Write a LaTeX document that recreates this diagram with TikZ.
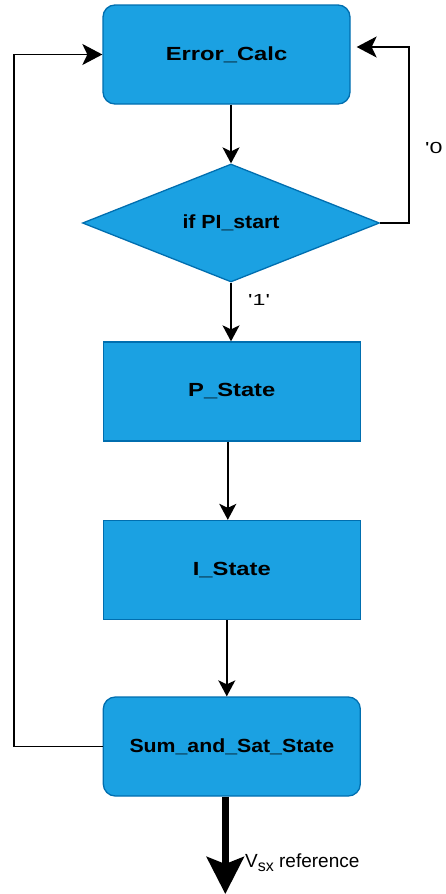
\documentclass[tikz,border=0pt]{standalone}
\usepackage{fontspec}
\setmainfont{Liberation Sans}
% bold labels inside the blocks, set a little wide
\newfontfamily\blockfont{Liberation Sans}[FakeStretch=1.25]
\newfontfamily\blockfontn{Liberation Sans}[FakeStretch=1.12]
% branch tags: straight quotes, wide digits
\newfontfamily\tagfont{Liberation Sans}[FakeStretch=1.45]
\newfontfamily\plainfont{Liberation Sans}
\usetikzlibrary{arrows.meta,shapes.geometric,calc}
\definecolor{blockfill}{HTML}{1BA1E2}
\definecolor{blockline}{HTML}{006EAF}
\begin{document}
\begin{tikzpicture}[x=1pt,y=-1pt,
  blockbase/.style={fill=blockfill,draw=blockline,line width=1.3pt,inner sep=0pt,
    minimum width=257pt,minimum height=99pt},
  stateblock/.style={blockbase,rectangle},
  roundblock/.style={blockbase,rectangle,rounded corners=12pt},
  decision/.style={fill=blockfill,draw=blockline,line width=1.3pt,diamond,inner sep=0pt,
    minimum width=297pt,minimum height=118pt,shape aspect=2.52},
  wlabel/.style={font=\blockfont\bfseries\fontsize{19}{22}\selectfont},
  nlabel/.style={font=\blockfontn\bfseries\fontsize{19}{22}\selectfont},
  flow/.style={line width=1.6pt,-{Stealth[length=16pt,width=17pt,inset=4pt]}},
  loopflow/.style={line width=1.6pt,-{Stealth[length=20pt,width=21pt,inset=5pt]}},
  outflow/.style={line width=7pt,-{Stealth[length=37pt,width=37pt,inset=7pt]}},
  tag/.style={font=\tagfont\fontsize{16}{18}\selectfont,inner sep=0pt,anchor=base west}
]
\useasboundingbox (0,0) rectangle (445,894);

% blocks
\node[roundblock,minimum width=247pt,wlabel] (ec) at (226.5,54.5) {Error\_Calc};
\node[decision,nlabel] (dia) at (231,223) {if PI\_start};
\node[stateblock,wlabel] (p) at (231.8,391.5) {P\_State};
\node[stateblock,wlabel] (i) at (231.8,570) {I\_State};
\node[roundblock,nlabel] (sum) at (231.8,746.5) {Sum\_and\_Sat\_State};

% corner points of the two feedback loops and the output end
\coordinate (rx) at (409,47);
\coordinate (lx) at (14,54.5);
\coordinate (vout) at (225.3,894);

% main flow
\draw[flow] (ec.south -| dia.north) -- (dia.north);
\draw[flow] (dia.south) -- (dia.south |- p.north);
\draw[flow] ([xshift=-4pt]p.south) -- ([xshift=-4pt]i.north);
\draw[flow] ([xshift=-5pt]i.south) -- ([xshift=-5pt]sum.north);

% feedback loops
\draw[loopflow] (dia.east) -| (rx) -- ($(ec.east |- rx)+(6,0)$);
\draw[loopflow] (sum.west) -| (lx) -- (ec.west);

% output
\draw[outflow] (sum.south -| vout) -- (vout);

% labels
\node[tag] (l0) at (425,153) {'0};
\node[tag] (l1) at (248,305) {'1'};
\node[tag,font=\plainfont\fontsize{19}{22}\selectfont] (lv) at (245,867)
  {V\raisebox{-4.5pt}{\fontsize{16}{16}\selectfont sx} reference};
\end{tikzpicture}
\end{document}
